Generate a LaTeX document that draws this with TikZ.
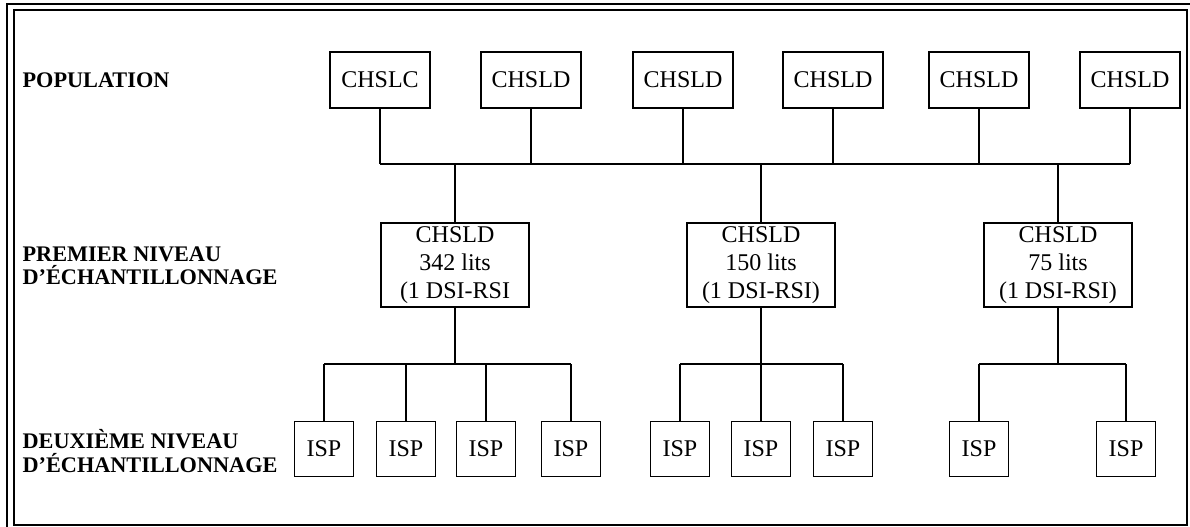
\documentclass[tikz,border=0pt]{standalone}
\usepackage{fontspec}
\setmainfont{Liberation Serif}
\begin{document}
\begin{tikzpicture}[x=0.75pt, y=-0.75pt, line width=0.9pt,
    every node/.style={font=\fontsize{18}{21}\selectfont},
    etab/.style={draw, minimum width=75pt, minimum height=42pt, inner sep=0pt},
    choix/.style={draw, align=center, minimum width=111pt, minimum height=63pt, inner sep=0pt},
    isp/.style={draw, minimum width=44pt, minimum height=41pt, inner sep=0pt},
    niveau/.style={anchor=west, align=left, inner sep=0pt, font=\fontsize{16.7}{17.5}\selectfont\bfseries}]
    \useasboundingbox (0,0) rectangle (1190,527);

    % cadre double
    \draw[line width=1.3pt] (7,527) -- (7,4) -- (1190,4);
    \draw[line width=1.3pt] (14,10) rectangle (1187,525);

    % niveaux
    \node[niveau] (lpop) at (22,80) {POPULATION};
    \node[niveau] (lun) at (22,266) {PREMIER NIVEAU\\D’ÉCHANTILLONNAGE};
    \node[niveau] (ldeux) at (22,451) {DEUXIÈME NIVEAU\\D’ÉCHANTILLONNAGE};

    % population
    \foreach \n/\x/\t in {p1/380/CHSLC, p2/531/CHSLD, p3/683/CHSLD, p4/833/CHSLD, p5/979/CHSLD, p6/1130/CHSLD}
        \node[etab] (\n) at (\x,80) {\t};

    % premier niveau
    \node[choix] (m1) at (455,265) {CHSLD\\342 lits\\(1 DSI-RSI};
    \node[choix] (m2) at (761,265) {CHSLD\\150 lits\\(1 DSI-RSI)};
    \node[choix] (m3) at (1058,265) {CHSLD\\75 lits\\(1 DSI-RSI)};

    % deuxième niveau
    \foreach \n/\x in {i1/324, i2/406, i3/486, i4/571, i5/680, i6/761, i7/843, i8/979, i9/1126}
        \node[isp] (\n) at (\x,449) {ISP};

    % liens
    \coordinate (haut) at (0,164);
    \coordinate (bas) at (0,364);
    \foreach \n in {p1,p2,p3,p4,p5,p6}
        \draw (\n.south) -- (\n.south |- haut);
    \draw (p1.south |- haut) -- (p6.south |- haut);
    \foreach \n in {m1,m2,m3} {
        \draw (\n.north) -- (\n.north |- haut);
        \draw (\n.south) -- (\n.south |- bas);
    }
    \foreach \n in {i1,i2,i3,i4,i5,i6,i7,i8,i9}
        \draw (\n.north) -- (\n.north |- bas);
    \draw (i1.north |- bas) -- (i4.north |- bas);
    \draw (i5.north |- bas) -- (i7.north |- bas);
    \draw (i8.north |- bas) -- (i9.north |- bas);
\end{tikzpicture}
\end{document}
